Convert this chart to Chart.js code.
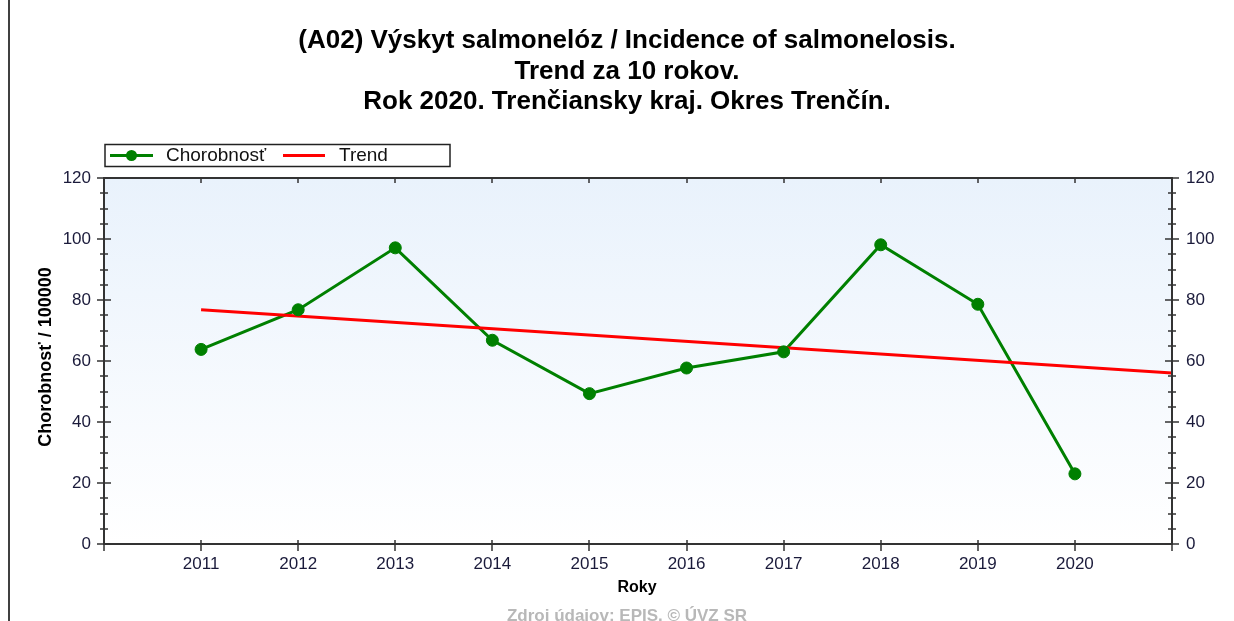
<!DOCTYPE html>
<html>
<head>
<meta charset="utf-8">
<script src="https://cdn.jsdelivr.net/npm/chart.js@4.4.0/dist/chart.umd.min.js"></script>
<style>
html, body { margin: 0; padding: 0; background: #fff; }
</style>
</head>
<body>
<canvas id="chart" width="1234" height="621"></canvas>
<script>
const years = [2011, 2012, 2013, 2014, 2015, 2016, 2017, 2018, 2019, 2020];
const incidence = [63.8, 76.8, 97.1, 66.8, 49.3, 57.7, 63.0, 98.1, 78.6, 23.0];
const trendYears = [2011, 2021];
const trendValues = [76.8, 56.1];
const yTicks = [0, 20, 40, 60, 80, 100, 120];
const titleLines = [
    '(A02) Výskyt salmonelóz / Incidence of salmonelosis.',
    'Trend za 10 rokov.',
    'Rok 2020. Trenčiansky kraj. Okres Trenčín.'
];
const seriesName = 'Chorobnosť';
const trendName = 'Trend';
const yTitle = 'Chorobnosť / 100000';
const xTitle = 'Roky';
const footer = 'Zdroj údajov: EPIS. © ÚVZ SR';

const FONT = '"Liberation Sans", Arial, sans-serif';
const green = '#008000';
const red = '#ff0000';
const axisColor = '#333333';

const points = years.map((y, i) => ({ x: y, y: incidence[i] }));
const trend = trendYears.map((y, i) => ({ x: y, y: trendValues[i] }));

/* background, title, legend, frame and tick marks */
const decor = {
    id: 'decor',
    beforeDatasetsDraw(chart) {
        const { ctx, chartArea: a } = chart;
        ctx.save();
        const g = ctx.createLinearGradient(0, a.top, 0, a.bottom);
        g.addColorStop(0, '#e9f2fc');
        g.addColorStop(1, '#ffffff');
        ctx.fillStyle = g;
        ctx.fillRect(a.left, a.top, a.right - a.left, a.bottom - a.top);
        ctx.restore();
    },
    afterDraw(chart) {
        const { ctx, chartArea: a } = chart;
        const xs = chart.scales.x, ys = chart.scales.y;
        ctx.save();

        // page edge line
        ctx.strokeStyle = '#000';
        ctx.lineWidth = 1.5;
        ctx.beginPath();
        ctx.moveTo(9, 0);
        ctx.lineTo(9, 621);
        ctx.stroke();

        // title
        ctx.fillStyle = '#000';
        ctx.font = 'bold 26px ' + FONT;
        ctx.textAlign = 'center';
        ctx.textBaseline = 'alphabetic';
        titleLines.forEach((t, i) => ctx.fillText(t, 627, 48 + i * 30.5));

        // frame
        ctx.strokeStyle = axisColor;
        ctx.lineWidth = 2;
        ctx.strokeRect(a.left, a.top, a.right - a.left, a.bottom - a.top);

        // x tick marks
        ctx.lineWidth = 1.5;
        ctx.beginPath();
        years.forEach(v => {
            const px = Math.round(xs.getPixelForValue(v));
            ctx.moveTo(px, a.bottom - 4);
            ctx.lineTo(px, a.bottom + 7);
            ctx.moveTo(px, a.top);
            ctx.lineTo(px, a.top + 5);
        });
        [a.left, a.right].forEach(px => {
            ctx.moveTo(px, a.bottom);
            ctx.lineTo(px, a.bottom + 7);
        });
        // y tick marks, both sides
        for (let v = 0; v <= 120; v += 5) {
            const py = Math.round(ys.getPixelForValue(v));
            const len = yTicks.includes(v) ? 7 : 4;
            ctx.moveTo(a.left - len, py);
            ctx.lineTo(a.left + len, py);
            ctx.moveTo(a.right - len, py);
            ctx.lineTo(a.right + len, py);
        }
        ctx.stroke();

        // axis titles
        ctx.fillStyle = '#000';
        ctx.font = 'bold 16px ' + FONT;
        ctx.textBaseline = 'middle';
        ctx.fillText(xTitle, 637, 588);
        ctx.save();
        ctx.translate(46, 357);
        ctx.rotate(-Math.PI / 2);
        ctx.font = 'bold 18px ' + FONT;
        ctx.fillText(yTitle, 0, 0);
        ctx.restore();

        // footer
        ctx.fillStyle = '#b8b8b8';
        ctx.font = 'bold 17px ' + FONT;
        ctx.fillText(footer, 627, 616);

        // legend
        ctx.strokeStyle = '#222';
        ctx.lineWidth = 1.5;
        ctx.strokeRect(105, 144.5, 345, 22);
        ctx.lineWidth = 3;
        ctx.strokeStyle = green;
        ctx.beginPath();
        ctx.moveTo(110, 155.5);
        ctx.lineTo(153, 155.5);
        ctx.stroke();
        ctx.fillStyle = green;
        ctx.beginPath();
        ctx.arc(131.5, 155.5, 5.5, 0, Math.PI * 2);
        ctx.fill();
        ctx.strokeStyle = red;
        ctx.beginPath();
        ctx.moveTo(283, 155.5);
        ctx.lineTo(325, 155.5);
        ctx.stroke();
        ctx.fillStyle = '#111';
        ctx.font = '19px ' + FONT;
        ctx.textAlign = 'left';
        ctx.fillText(seriesName, 166, 156);
        ctx.fillText(trendName, 339, 156);

        ctx.restore();
    }
};

const tickFont = { family: FONT, size: 17 };
const tickColor = '#1a1a3a';

new Chart(document.getElementById('chart'), {
    type: 'line',
    data: {
        datasets: [{
            label: seriesName,
            data: points,
            borderColor: green,
            borderWidth: 3,
            pointRadius: 0,
            order: 3
        }, {
            label: trendName,
            data: trend,
            borderColor: red,
            borderWidth: 3,
            pointRadius: 0,
            order: 2
        }, {
            label: seriesName + ' markers',
            data: points,
            showLine: false,
            pointRadius: 6,
            pointBorderWidth: 1,
            pointBackgroundColor: green,
            pointBorderColor: green,
            order: 1
        }]
    },
    options: {
        responsive: false,
        animation: false,
        events: [],
        layout: { padding: { top: 178, left: 0, right: 0, bottom: 0 } },
        plugins: {
            legend: { display: false },
            title: { display: false },
            tooltip: { enabled: false }
        },
        scales: {
            x: {
                type: 'linear',
                position: 'bottom',
                min: 2010,
                max: 2021,
                grid: { display: false, drawTicks: false },
                border: { display: false },
                afterBuildTicks: s => { s.ticks = years.map(v => ({ value: v })); },
                afterFit: s => { s.height = 77; },
                ticks: {
                    font: tickFont,
                    color: tickColor,
                    padding: 10,
                    maxRotation: 0,
                    callback: v => String(v)
                }
            },
            y: {
                position: 'left',
                min: 0,
                max: 120,
                grid: { display: false, drawTicks: false },
                border: { display: false },
                afterBuildTicks: s => { s.ticks = yTicks.map(v => ({ value: v })); },
                afterFit: s => { s.width = 104; },
                ticks: { font: tickFont, color: tickColor, padding: 13 }
            },
            y2: {
                position: 'right',
                min: 0,
                max: 120,
                grid: { display: false, drawTicks: false },
                border: { display: false },
                afterBuildTicks: s => { s.ticks = yTicks.map(v => ({ value: v })); },
                afterFit: s => { s.width = 62; },
                ticks: { font: tickFont, color: tickColor, padding: 14 }
            }
        }
    },
    plugins: [decor]
});
</script>
</body>
</html>
